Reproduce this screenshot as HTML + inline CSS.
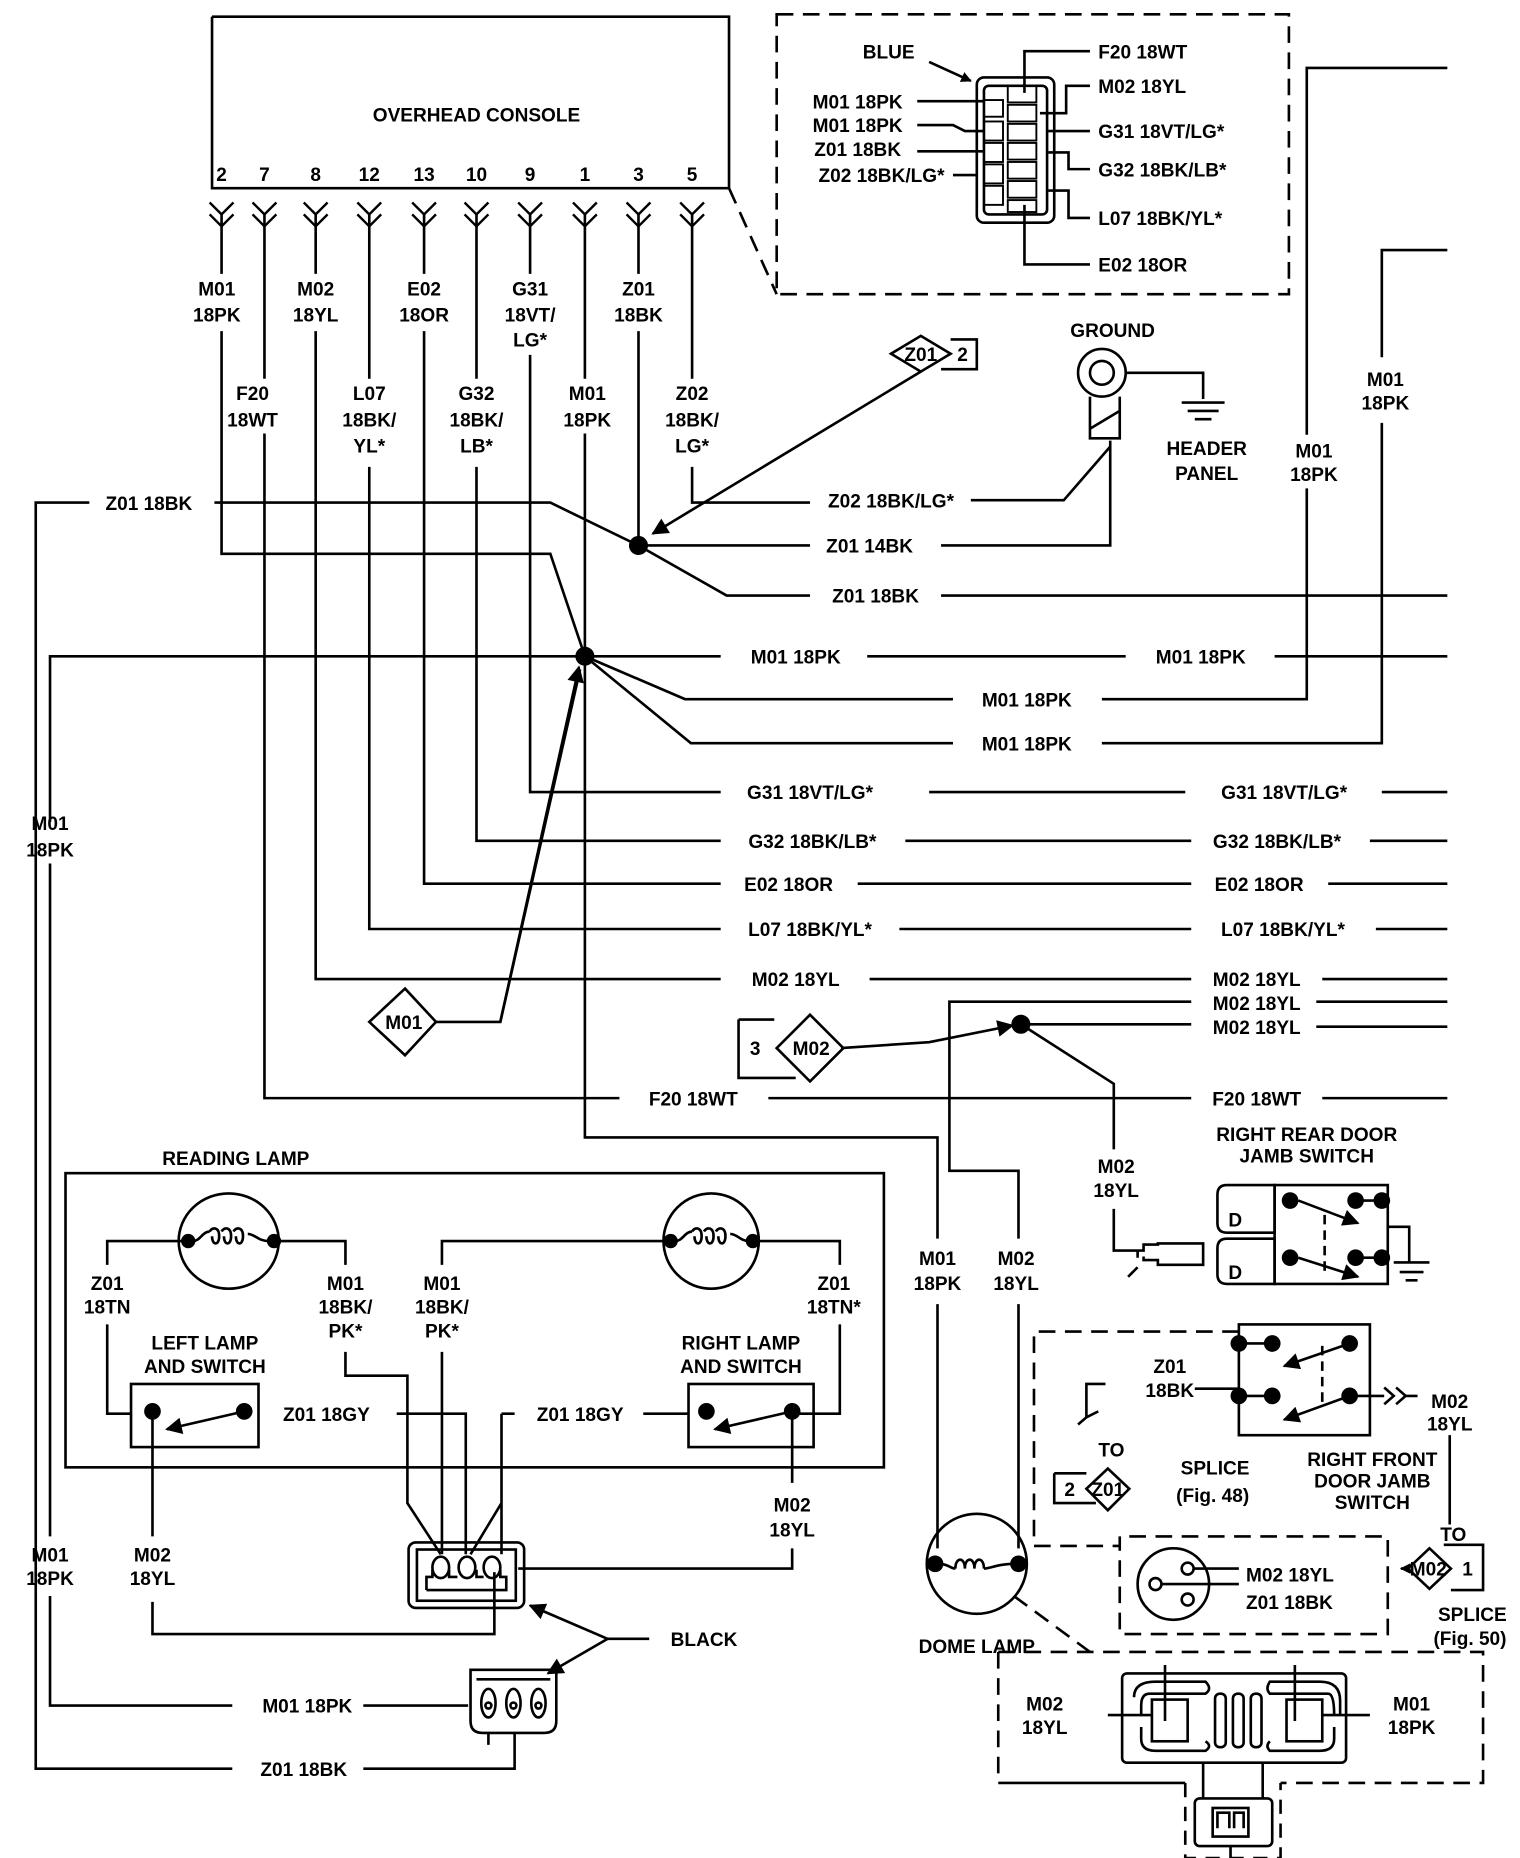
<!DOCTYPE html>
<html><head><meta charset="utf-8"><style>
html,body{margin:0;padding:0;background:#fff;}
svg{display:block;}
text{font-family:"Liberation Sans",sans-serif;font-weight:bold;font-size:16px;fill:#000;}
</style></head><body>
<svg width="1520" height="1858" viewBox="0 0 1276 1560" preserveAspectRatio="none" xmlns="http://www.w3.org/2000/svg">
<defs>
<marker id="ar" viewBox="0 0 10 10" refX="9" refY="5" markerWidth="9" markerHeight="9" orient="auto-start-reverse" markerUnits="userSpaceOnUse"><path d="M0,0 L10,5 L0,10 z" fill="#000"/></marker>
<marker id="ar2" viewBox="0 0 10 10" refX="9" refY="5" markerWidth="20" markerHeight="14" orient="auto" markerUnits="userSpaceOnUse"><path d="M0,0 L10,5 L0,10 z" fill="#000"/></marker>
</defs>
<g fill="none" stroke="#000" stroke-width="2.2">
<path d="M178,14 H612 V158 M178,14 V158 H612"/>
<g stroke-width="2">
<path d="M176,170 l10,10 l10,-10 M176,180 l10,10 l10,-10"/>
<path d="M212,170 l10,10 l10,-10 M212,180 l10,10 l10,-10"/>
<path d="M255,170 l10,10 l10,-10 M255,180 l10,10 l10,-10"/>
<path d="M300,170 l10,10 l10,-10 M300,180 l10,10 l10,-10"/>
<path d="M346,170 l10,10 l10,-10 M346,180 l10,10 l10,-10"/>
<path d="M390,170 l10,10 l10,-10 M390,180 l10,10 l10,-10"/>
<path d="M435,170 l10,10 l10,-10 M435,180 l10,10 l10,-10"/>
<path d="M481,170 l10,10 l10,-10 M481,180 l10,10 l10,-10"/>
<path d="M526,170 l10,10 l10,-10 M526,180 l10,10 l10,-10"/>
<path d="M571,170 l10,10 l10,-10 M571,180 l10,10 l10,-10"/>
</g>
<path d="M186,180 V230 M186,278 V465 H462 L491,551"/>
<path d="M222,180 V318 M222,364 V922 H520 M645,922 H1000 M1110,922 H1215"/>
<path d="M265,180 V230 M265,278 V822 H605 M730,822 H1000 M1110,822 H1215"/>
<path d="M310,180 V318 M310,392 V780 H605 M755,780 H1000 M1155,780 H1215"/>
<path d="M356,180 V230 M356,278 V742 H605 M720,742 H1000 M1115,742 H1215"/>
<path d="M400,180 V318 M400,392 V706 H605 M760,706 H1000 M1150,706 H1215"/>
<path d="M445,180 V230 M445,298 V665 H605 M780,665 H995 M1160,665 H1215"/>
<path d="M491,180 V318 M491,364 V955 H787 V1040 M787,1095 V1300"/>
<path d="M536,180 V230 M536,278 V458"/>
<path d="M581,180 V318 M581,392 V422 H680 M815,420 H893 L932,375"/>
<path d="M75,422 H30 V1485 H195 M305,1485 H432 V1455 M180,422 H462 L536,458"/>
<path d="M536,458 H680 M790,458 H932 V370 M536,458 L610,500 H680 M790,500 H1215"/>
<path d="M773,312 L548,448" marker-end="url(#ar2)"/>
<path d="M42,690 V551 H491 H605 M728,551 H945 M1070,551 H1215"/>
<path d="M42,725 V1290 M42,1340 V1432 H195 M305,1432 H393"/>
<path d="M491,551 L575,587 H800 M925,587 H1097 V410 M1097,365 V57 H1215"/>
<path d="M491,551 L580,624 H800 M925,624 H1160 V355 M1160,300 V210 H1215"/>
<path d="M366,858 H420 L487,562" />
<path d="M420,858 L486,560" marker-end="url(#ar2)"/>
<path d="M1000,841 H797 V983 H855 V1040 M855,1095 V1300"/>
<path d="M1105,841 H1215 M1105,862 H1215 M857,860 H1000"/>
<path d="M706,880 L780,875 L850,861" marker-end="url(#ar2)"/>
<path d="M857,860 L935,910 V965 M935,1015 V1050 H955"/>
<circle cx="925" cy="313" r="20"/><circle cx="925" cy="313" r="10"/>
<path d="M915,333 V368 H940 V333 M915,360 L940,345 M945,313 H1010 V335 M992,338 H1028 M997,345 H1023 M1003,352 H1017"/>
<path d="M773,282 L798,297 L773,312 L748,297 Z"/>
<path d="M798,285 H820 V310 H790"/>
<path d="M340,830 L366,858 L340,886 L310,858 Z"/>
<path d="M620,856 H650 M620,856 V905 H668 M680,852 L708,880 L680,908 L652,880 Z"/>
<path d="M652,12 H1082 V247 H652 Z M612,158 L652,247" stroke-dasharray="14,8"/>
<rect x="820" y="65" width="65" height="122" rx="6"/>
<rect x="826" y="72" width="53" height="108" rx="4"/>
<g stroke-width="1.6">
<rect x="846" y="72" width="24" height="14"/><rect x="846" y="88" width="24" height="14"/><rect x="846" y="104" width="24" height="14"/><rect x="846" y="120" width="24" height="14"/><rect x="846" y="136" width="24" height="14"/><rect x="846" y="152" width="24" height="14"/><rect x="846" y="168" width="24" height="10"/>
<rect x="826" y="84" width="16" height="14"/><rect x="826" y="102" width="16" height="16"/><rect x="826" y="120" width="16" height="16"/><rect x="826" y="138" width="16" height="16"/><rect x="826" y="156" width="16" height="16"/>
</g>
<path d="M860,78 V43 H915 M873,95 H895 V72 H915 M880,110 H915 M880,128 H897 V142 H915 M880,160 H897 V183 H915 M860,172 V222 H915"/>
<path d="M770,85 H826 M770,105 H800 L810,110 H826 M770,127 H826 M800,147 H820 M780,52 L815,68" marker-end="url(#ar)"/>
<rect x="55" y="985" width="687" height="247"/>
<ellipse cx="192" cy="1042" rx="42" ry="40"/>
<ellipse cx="597" cy="1042" rx="40" ry="40"/>
<path d="M162,1042 c6,0 8,-8 14,-8 M176,1034 c2,-4 8,-4 8,4 c0,8 -6,8 -6,0 M186,1034 c2,-4 8,-4 8,4 c0,8 -6,8 -6,0 M196,1034 c2,-4 8,-4 8,4 c0,8 -6,8 -6,0 M208,1036 c6,0 8,6 18,6"/>
<path d="M567,1042 c6,0 8,-8 14,-8 M581,1034 c2,-4 8,-4 8,4 c0,8 -6,8 -6,0 M591,1034 c2,-4 8,-4 8,4 c0,8 -6,8 -6,0 M601,1034 c2,-4 8,-4 8,4 c0,8 -6,8 -6,0 M613,1036 c6,0 8,6 16,6"/>
<path d="M158,1042 H90 V1062 M90,1112 V1187 H110"/>
<path d="M230,1042 H290 V1062 M290,1135 V1155 H342 V1262 L370,1305"/>
<path d="M563,1042 H371 V1062 M371,1135 V1305"/>
<path d="M632,1042 H705 V1062 M705,1112 V1187 H665"/>
<path d="M333,1187 H391 V1305 M421,1305 V1262 M421,1187 V1262 L395,1305 M432,1187 H421 M540,1187 H578"/>
<rect x="110" y="1162" width="107" height="53"/>
<rect x="578" y="1162" width="105" height="53"/>
<path d="M205,1185 L140,1200" marker-end="url(#ar2)"/>
<path d="M665,1185 L600,1200" marker-end="url(#ar2)"/>
<path d="M128,1185 V1290 M128,1345 V1372 H415 V1320"/>
<path d="M665,1185 V1245 M665,1300 V1317 H435"/>
<rect x="343" y="1295" width="97" height="55" rx="6"/>
<rect x="350" y="1301" width="83" height="43"/>
<path d="M358,1335 V1324 H363 V1318 M377,1318 V1324 H384 M400,1318 V1324 H406 M420,1318 V1324 H425 V1335 H358"/>
<ellipse cx="370" cy="1316" rx="7" ry="9"/><ellipse cx="392" cy="1316" rx="7" ry="9"/><ellipse cx="413" cy="1316" rx="7" ry="9"/>
<path d="M545,1376 H510 L445,1348" marker-end="url(#ar2)"/>
<path d="M510,1376 L460,1405" marker-end="url(#ar2)"/>
<path d="M395,1402 H467 V1445 Q467,1455 457,1455 H405 Q395,1455 395,1445 Z M400,1410 H462"/>
<ellipse cx="410" cy="1430" rx="6" ry="12"/><ellipse cx="431" cy="1430" rx="6" ry="12"/><ellipse cx="452" cy="1430" rx="6" ry="12"/>
<circle cx="410" cy="1432" r="2.5"/><circle cx="431" cy="1432" r="2.5"/><circle cx="452" cy="1432" r="2.5"/>
<path d="M410,1455 V1465"/>
<circle cx="820" cy="1313" r="42"/>
<path d="M788,1313 c8,0 10,4 14,4 M802,1317 c0,-10 8,-10 8,0 M810,1317 c0,-10 8,-10 8,0 M818,1317 c0,-10 8,-10 8,0 M826,1317 c6,0 10,-4 28,-4"/>
<path d="M851,1340 L915,1387" stroke-dasharray="14,8"/>
<path d="M838,1387 H1245 V1497 H1075 M995,1497 H838 Z" stroke-dasharray="14,8"/>
<path d="M838,1387 V1497" stroke-dasharray="14,8"/>
<path d="M995,1497 V1560 H1075 V1497" stroke-dasharray="12,8"/>
<rect x="942" y="1405" width="188" height="75" rx="4"/>
<path d="M952,1425 Q952,1412 970,1412 H1012 Q1018,1418 1012,1422 H965 Q958,1422 958,1432 V1440 M1125,1440 V1428 Q1125,1412 1108,1412 H1066 Q1062,1418 1066,1422 H1115 Q1120,1422 1120,1440"/>
<path d="M958,1450 V1460 Q958,1470 970,1470 H1012 Q1018,1466 1012,1462 M1120,1450 V1460 Q1120,1470 1108,1470 H1066 Q1062,1466 1066,1462"/>
<rect x="967" y="1427" width="30" height="35"/><rect x="1080" y="1427" width="30" height="35"/>
<rect x="1020" y="1422" width="9" height="45" rx="4"/><rect x="1035" y="1422" width="9" height="45" rx="4"/><rect x="1050" y="1422" width="9" height="45" rx="4"/>
<path d="M978,1398 V1445 M1087,1398 V1445 M930,1440 H967 M1110,1440 H1150"/>
<path d="M1010,1480 V1510 M1060,1480 V1510"/>
<rect x="1003" y="1510" width="65" height="40" rx="4"/>
<rect x="1018" y="1518" width="30" height="24"/>
<path d="M1022,1535 V1522 H1032 V1535 M1036,1535 V1522 H1044 V1535 M1033,1550 V1560"/>
<path d="M1040,1118 H868 V1298 H940 V1290 H1165 V1372 H940 V1290" stroke-dasharray="14,8"/>
<rect x="1040" y="1112" width="110" height="93"/>
<path d="M1040,1128 H1068 M1040,1172 H1068 M1003,1166 H1040 M1133,1172 H1162"/>
<path d="M1133,1128 L1078,1147" marker-end="url(#ar2)"/>
<path d="M1133,1172 L1078,1192" marker-end="url(#ar2)"/>
<path d="M1110,1130 V1180" stroke-dasharray="8,5"/>
<path d="M1162,1165 l8,7 l-8,7 M1172,1165 l8,7 l-8,7 M1180,1172 H1190 M1217,1205 V1280"/>
<path d="M928,1162 H912 V1190 L905,1196 M912,1190 L922,1185"/>
<path d="M885,1237 H912 M885,1237 V1262 H920 M930,1233 L948,1250 L930,1268 L912,1250 Z"/>
<path d="M1200,1300 L1218,1317 L1200,1334 L1182,1317 Z M1212,1297 H1245 V1335 H1218"/>
<path d="M1182,1317 L1176,1317" marker-end="url(#ar)"/>
<circle cx="985" cy="1330" r="30"/>
<circle cx="997" cy="1317" r="5"/><circle cx="997" cy="1343" r="5"/><circle cx="970" cy="1330" r="5"/>
<path d="M1002,1317 H1040 M975,1330 H1040"/>
<path d="M1030,995 H1070 V1035 H1030 Q1022,1035 1022,1027 V1003 Q1022,995 1030,995 Z M1030,1040 H1070 V1078 H1030 Q1022,1078 1022,1070 V1048 Q1022,1040 1030,1040 Z"/>
<rect x="1070" y="995" width="95" height="83"/>
<path d="M1165,1030 H1183 V1060 M1170,1060 H1200 M1175,1068 H1195 M1180,1075 H1190"/>
<path d="M1090,1008 L1140,1027" marker-end="url(#ar2)"/>
<path d="M1090,1056 L1140,1072" marker-end="url(#ar2)"/>
<path d="M1112,1020 V1070" stroke-dasharray="8,5"/>
<path d="M1138,1008 H1160 M1138,1056 H1160"/>
<path d="M955,1050 H960 V1045 H972 V1044 H1010 V1062 H972 V1058 H960 V1055 M955,1050 V1056"/>
<path d="M947,1072 L955,1064"/>
</g>
<g fill="#000">
<circle cx="536" cy="458" r="8"/><circle cx="491" cy="551" r="8"/><circle cx="857" cy="860" r="8"/>
<circle cx="158" cy="1042" r="6"/><circle cx="230" cy="1042" r="6"/><circle cx="563" cy="1042" r="6"/><circle cx="632" cy="1042" r="6"/>
<circle cx="128" cy="1185" r="7"/><circle cx="205" cy="1185" r="7"/><circle cx="593" cy="1185" r="7"/><circle cx="665" cy="1185" r="7"/>
<circle cx="785" cy="1313" r="7"/><circle cx="855" cy="1313" r="7"/>
<circle cx="1040" cy="1128" r="7"/><circle cx="1068" cy="1128" r="7"/><circle cx="1133" cy="1128" r="7"/>
<circle cx="1040" cy="1172" r="7"/><circle cx="1068" cy="1172" r="7"/><circle cx="1133" cy="1172" r="7"/>
<circle cx="1083" cy="1008" r="7"/><circle cx="1138" cy="1008" r="7"/><circle cx="1160" cy="1008" r="7"/>
<circle cx="1083" cy="1056" r="7"/><circle cx="1138" cy="1056" r="7"/><circle cx="1160" cy="1056" r="7"/>
</g>
<g text-anchor="middle">
<text x="400" y="102">OVERHEAD CONSOLE</text>
<text x="186" y="152">2</text><text x="222" y="152">7</text><text x="265" y="152">8</text><text x="310" y="152">12</text><text x="356" y="152">13</text><text x="400" y="152">10</text><text x="445" y="152">9</text><text x="491" y="152">1</text><text x="536" y="152">3</text><text x="581" y="152">5</text>
<text x="182" y="248">M01</text><text x="182" y="270">18PK</text>
<text x="265" y="248">M02</text><text x="265" y="270">18YL</text>
<text x="356" y="248">E02</text><text x="356" y="270">18OR</text>
<text x="445" y="248">G31</text><text x="445" y="270">18VT/</text><text x="445" y="291">LG*</text>
<text x="536" y="248">Z01</text><text x="536" y="270">18BK</text>
<text x="212" y="336">F20</text><text x="212" y="358">18WT</text>
<text x="310" y="336">L07</text><text x="310" y="358">18BK/</text><text x="310" y="380">YL*</text>
<text x="400" y="336">G32</text><text x="400" y="358">18BK/</text><text x="400" y="380">LB*</text>
<text x="493" y="336">M01</text><text x="493" y="358">18PK</text>
<text x="581" y="336">Z02</text><text x="581" y="358">18BK/</text><text x="581" y="380">LG*</text>
<text x="125" y="428">Z01 18BK</text>
<text x="748" y="426">Z02 18BK/LG*</text>
<text x="730" y="464">Z01 14BK</text>
<text x="735" y="506">Z01 18BK</text>
<text x="668" y="557">M01 18PK</text>
<text x="1008" y="557">M01 18PK</text>
<text x="862" y="593">M01 18PK</text>
<text x="862" y="630">M01 18PK</text>
<text x="680" y="671">G31 18VT/LG*</text><text x="1078" y="671">G31 18VT/LG*</text>
<text x="682" y="712">G32 18BK/LB*</text><text x="1072" y="712">G32 18BK/LB*</text>
<text x="662" y="748">E02 18OR</text><text x="1057" y="748">E02 18OR</text>
<text x="680" y="786">L07 18BK/YL*</text><text x="1077" y="786">L07 18BK/YL*</text>
<text x="668" y="828">M02 18YL</text><text x="1055" y="828">M02 18YL</text>
<text x="1055" y="848">M02 18YL</text><text x="1055" y="868">M02 18YL</text>
<text x="582" y="928">F20 18WT</text><text x="1055" y="928">F20 18WT</text>
<text x="42" y="697">M01</text><text x="42" y="719">18PK</text>
<text x="1103" y="384">M01</text><text x="1103" y="404">18PK</text>
<text x="1163" y="324">M01</text><text x="1163" y="344">18PK</text>
<text x="934" y="283">GROUND</text>
<text x="1013" y="382">HEADER</text><text x="1013" y="403">PANEL</text>
<text x="773" y="303" font-size="14">Z01</text><text x="808" y="303">2</text>
<text x="339" y="864" font-size="14">M01</text>
<text x="634" y="886">3</text><text x="681" y="886" font-size="14">M02</text>
<text x="746" y="49">BLUE</text>
<text x="720" y="91">M01 18PK</text><text x="720" y="111">M01 18PK</text><text x="720" y="131">Z01 18BK</text><text x="740" y="153">Z02 18BK/LG*</text>
</g>
<g>
<text x="922" y="49">F20 18WT</text><text x="922" y="78">M02 18YL</text><text x="922" y="116">G31 18VT/LG*</text><text x="922" y="148">G32 18BK/LB*</text><text x="922" y="189">L07 18BK/YL*</text><text x="922" y="228">E02 18OR</text>
</g>
<g text-anchor="middle">
<text x="198" y="978">READING LAMP</text>
<text x="90" y="1083">Z01</text><text x="90" y="1103">18TN</text>
<text x="290" y="1083">M01</text><text x="290" y="1103">18BK/</text><text x="290" y="1123">PK*</text>
<text x="371" y="1083">M01</text><text x="371" y="1103">18BK/</text><text x="371" y="1123">PK*</text>
<text x="700" y="1083">Z01</text><text x="700" y="1103">18TN*</text>
<text x="172" y="1133">LEFT LAMP</text><text x="172" y="1153">AND SWITCH</text>
<text x="622" y="1133">RIGHT LAMP</text><text x="622" y="1153">AND SWITCH</text>
<text x="274" y="1193">Z01 18GY</text><text x="487" y="1193">Z01 18GY</text>
<text x="665" y="1269">M02</text><text x="665" y="1290">18YL</text>
<text x="128" y="1311">M02</text><text x="128" y="1331">18YL</text>
<text x="42" y="1311">M01</text><text x="42" y="1331">18PK</text>
<text x="591" y="1382">BLACK</text>
<text x="258" y="1438">M01 18PK</text>
<text x="255" y="1491">Z01 18BK</text>
<text x="787" y="1062">M01</text><text x="787" y="1083">18PK</text>
<text x="853" y="1062">M02</text><text x="853" y="1083">18YL</text>
<text x="937" y="985">M02</text><text x="937" y="1005">18YL</text>
<text x="1097" y="958">RIGHT REAR DOOR</text><text x="1097" y="976">JAMB SWITCH</text>
<text x="982" y="1153">Z01</text><text x="982" y="1173">18BK</text>
<text x="1217" y="1182">M02</text><text x="1217" y="1201">18YL</text>
<text x="933" y="1223">TO</text><text x="898" y="1256">2</text><text x="930" y="1256" font-size="14">Z01</text>
<text x="1020" y="1238">SPLICE</text><text x="1018" y="1261" font-size="14">(Fig. 48)</text>
<text x="1152" y="1231">RIGHT FRONT</text><text x="1152" y="1249">DOOR JAMB</text><text x="1152" y="1267">SWITCH</text>
<text x="1220" y="1294">TO</text><text x="1199" y="1323" font-size="14">M02</text><text x="1232" y="1323">1</text>
<text x="1236" y="1361">SPLICE</text><text x="1234" y="1381" font-size="14">(Fig. 50)</text>
<text x="820" y="1388">DOME LAMP</text>
<text x="877" y="1436">M02</text><text x="877" y="1456">18YL</text>
<text x="1185" y="1436">M01</text><text x="1185" y="1456">18PK</text>
<text x="1037" y="1074" font-size="14">D</text><text x="1037" y="1030" font-size="14">D</text>
</g>
<g><text x="1046" y="1328">M02 18YL</text><text x="1046" y="1351">Z01 18BK</text></g>
</svg>
</body></html>
